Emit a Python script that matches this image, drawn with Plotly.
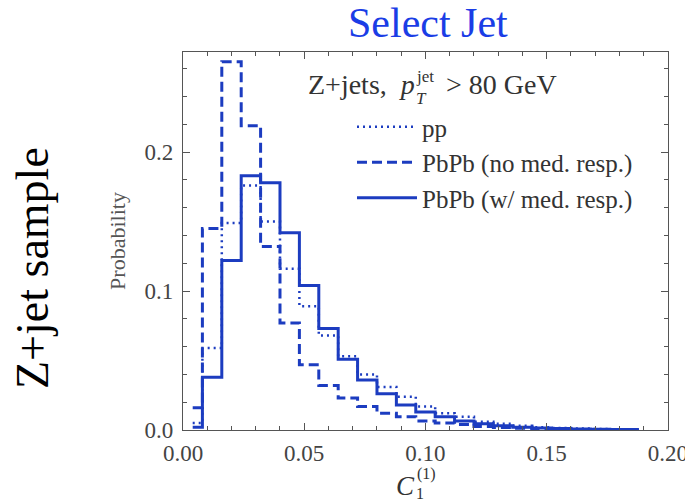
import plotly.graph_objects as go

# bin centres of the C1(1) histogram
bin_centers = [0.004, 0.012, 0.020, 0.028, 0.036, 0.044, 0.052, 0.060, 0.068, 0.076,
               0.084, 0.092, 0.100, 0.108, 0.116, 0.124, 0.132, 0.140, 0.148, 0.156,
               0.164, 0.172, 0.180, 0.188]
pp_vals = [0.005, 0.059, 0.149, 0.176, 0.150, 0.116, 0.089, 0.068, 0.053, 0.040,
           0.031, 0.024, 0.017, 0.012, 0.0095, 0.006, 0.0045, 0.003, 0.002, 0.0015,
           0.001, 0.0008, 0.0005, 0.0004]
pbpb_nomr_vals = [0.016, 0.145, 0.265, 0.219, 0.132, 0.077, 0.047, 0.032, 0.023, 0.017,
                  0.012, 0.0095, 0.0065, 0.005, 0.004, 0.0025, 0.0018, 0.0012, 0.0008, 0.0005,
                  0.0004, 0.0003, 0.0002, 0.0002]
pbpb_mr_vals = [0.002, 0.038, 0.122, 0.183, 0.178, 0.142, 0.104, 0.073, 0.051, 0.036,
                0.026, 0.018, 0.013, 0.0095, 0.0065, 0.0045, 0.003, 0.002, 0.0015, 0.001,
                0.0008, 0.0006, 0.0004, 0.0003]
series_names = ["pp", "PbPb (no med. resp.)", "PbPb (w/ med. resp.)"]
x_ticks = [0.0, 0.05, 0.10, 0.15, 0.20]
x_ticklabels = ["0.00", "0.05", "0.10", "0.15", "0.20"]
y_ticks = [0.0, 0.1, 0.2]
y_ticklabels = ["0.0", "0.1", "0.2"]

LINE = "#1c3cc0"
SERIF = "Liberation Serif"

fig = go.Figure()
styles = [("2px,4px", 2.5), ("10px,5px", 3), ("solid", 3)]
for name, vals, (dash, w) in zip(series_names, [pp_vals, pbpb_nomr_vals, pbpb_mr_vals], styles):
    fig.add_trace(go.Scatter(x=bin_centers, y=vals, name=name, mode="lines",
                             line=dict(color=LINE, width=w, dash=dash, shape="hvh")))

axis_common = dict(showline=True, linecolor="#555", linewidth=1.3, mirror="allticks",
                   ticks="inside", ticklen=7, tickcolor="#555", tickwidth=1,
                   showgrid=False, zeroline=False, ticklabeloverflow="allow", automargin=False,
                   tickfont=dict(family=SERIF, size=23, color="#444"))
fig.update_xaxes(range=[0, 0.20002], tickvals=x_ticks, ticktext=x_ticklabels,
                 minor=dict(ticks="inside", dtick=0.01, ticklen=4, tickcolor="#555", showgrid=False),
                 ticklabelstandoff=2, **axis_common)
fig.update_yaxes(range=[0, 0.272], tickvals=y_ticks, ticktext=y_ticklabels,
                 minor=dict(ticks="inside", dtick=0.02, ticklen=4, tickcolor="#555", showgrid=False),
                 ticklabelstandoff=4,
                 title=dict(text="Probability", font=dict(family=SERIF, size=22, color="#555"), standoff=12),
                 **axis_common)

def ann(text, x, y, size, color="#333", xanchor="center", yanchor="middle", angle=0):
    fig.add_annotation(text=text, x=x, y=y, xref="paper", yref="paper", showarrow=False,
                       font=dict(family=SERIF, size=size, color=color),
                       xanchor=xanchor, yanchor=yanchor, textangle=angle)

W, H = 685, 503
L, R, T, B = 183, 17, 52, 73
pw, ph = W - L - R, H - T - B

def px(xp):
    return (xp - L) / pw

def py(yp):
    return (H - B - yp) / ph

# title and side label
ann("Select Jet", px(428), py(23), 42, color="#1a3de6")
ann("Z+jet sample", px(32), py(268), 46, color="#000", angle=-90)

# x axis title C_1^(1)
ann("<i>C</i>", px(417), py(486), 27, xanchor="right")
ann("(1)", px(415), py(474), 16, xanchor="left")
ann("1", px(414), py(493), 16, xanchor="left")

# inline label
ann("Z+jets,&nbsp; <i>p</i>", px(417), py(84), 28, xanchor="right")
ann("jet", px(414), py(76), 17, xanchor="left")
ann("<i>T</i>", px(414), py(98), 17, xanchor="left")
ann("&gt; 80 GeV", px(444), py(84), 28, xanchor="left")

fig.update_layout(width=W, height=H, margin=dict(l=L, r=R, t=T, b=B),
                  paper_bgcolor="white", plot_bgcolor="white",
                  showlegend=True,
                  legend=dict(x=px(352), y=py(104), xanchor="left", yanchor="top",
                              bgcolor="rgba(0,0,0,0)", font=dict(family=SERIF, size=25, color="#333"),
                              itemwidth=60, tracegroupgap=0))

fig.write_html("out.html")
